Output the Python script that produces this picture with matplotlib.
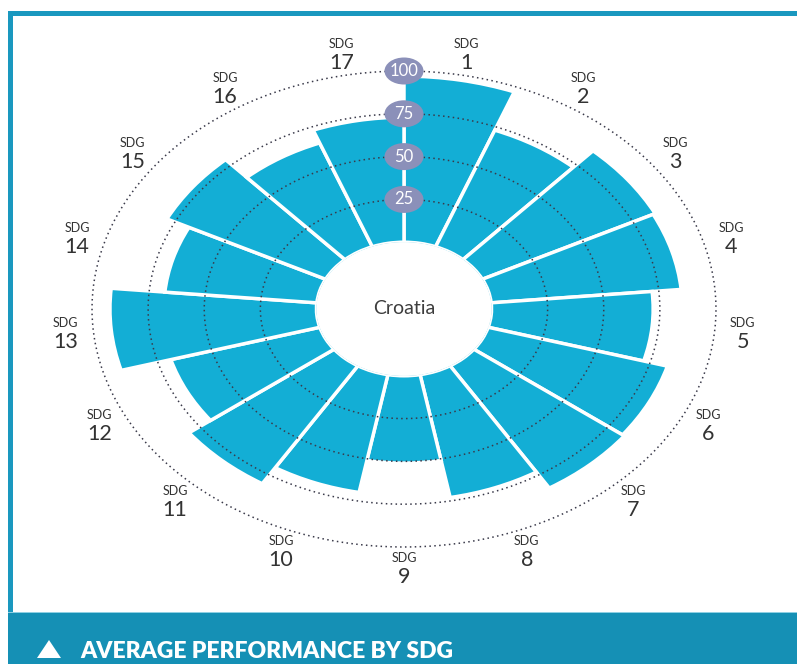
import numpy as np
import matplotlib
matplotlib.use("Agg")
import matplotlib.pyplot as plt
from matplotlib.patches import Rectangle, Ellipse, Polygon
from matplotlib import transforms

# ---- data ----
country = "Croatia"
goals = list(range(1, 18))
scores = [97, 73, 86, 85, 72, 83, 84, 73, 51, 70, 81, 69, 92, 68, 79, 65, 73]
ring_values = [25, 50, 75, 100]
title = "AVERAGE PERFORMANCE BY SDG"

# ---- style ----
BAR = "#13aed5"
BUBBLE = "#8b90b9"
FRAME = "#1a98bf"
BANNER = "#1590b5"
TXT = "#333333"
FONT = ["Lato", "DejaVu Sans"]

W, H = 797, 664
fig = plt.figure(figsize=(W / 100, H / 100), dpi=100)
fig.patch.set_facecolor("white")

def px(x, y):
    return (x / W, 1 - y / H)

# frame and banner
fig.patches.append(Rectangle((8 / W, 0), 1 - 8 / W, 52 / H, transform=fig.transFigure,
                             facecolor=BANNER, edgecolor="none", zorder=0))
fig.patches.append(Rectangle((8 / W, 51 / H), 1 - 8 / W, 1.2 / H, transform=fig.transFigure,
                             facecolor="#8fd0e3", edgecolor="none", zorder=1))
fig.patches.append(Rectangle((8 / W, 52 / H), 4.5 / W, (H - 52 - 11) / H, transform=fig.transFigure,
                             facecolor=FRAME, edgecolor="none", zorder=0))
fig.patches.append(Rectangle((8 / W, (H - 16) / H), 1 - 8 / W, 5 / H, transform=fig.transFigure,
                             facecolor=FRAME, edgecolor="none", zorder=0))
fig.patches.append(Polygon([px(37, 658), px(61, 658), px(49, 640)], closed=True,
                           transform=fig.transFigure, facecolor="white",
                           edgecolor="none", zorder=2))
fig.text(80 / W, 6 / H, title, color="white", fontsize=16.5, family=FONT,
         fontweight="heavy", ha="left", va="baseline")

# polar chart (stretched into an ellipse)
cx, cy = 404, H - 309
rx, ry = 312, 238
ax = fig.add_axes([(cx - rx) / W, (cy - ry) / H, 2 * rx / W, 2 * ry / H], projection="polar")
ax.set_aspect("auto")
ax.set_theta_zero_location("N")
ax.set_theta_direction(-1)
ax.set_ylim(0, 100)
ax.set_rorigin(-39)
ax.axis("off")

n = len(goals)
width = 2 * np.pi / n
theta = np.arange(n) * width + width / 2
ax.bar(theta, scores, width=width, bottom=0, color=BAR, edgecolor="white",
       linewidth=2.5, zorder=2)

circ = np.linspace(0, 2 * np.pi, 600)
for v in ring_values:
    ax.plot(circ, np.full_like(circ, v), color="#3a3a4a", lw=1.1,
            linestyle=(0, (1, 2.2)), zorder=3, clip_on=False)
    trans = fig.dpi_scale_trans + transforms.ScaledTranslation(0, v, ax.transData)
    ax.add_artist(Ellipse((0, 0), 0.39, 0.27, transform=trans, facecolor=BUBBLE,
                          edgecolor="none", zorder=4, clip_on=False))
    ax.text(0, v, str(v), color="white", fontsize=12, family=FONT, ha="center",
            va="center", zorder=5)

ax.text(0.5, 0.5, country, transform=ax.transAxes, ha="center", va="center",
        fontsize=14, color="#3d3d3d", family=FONT)

for t, g in zip(theta, goals):
    ax.annotate("SDG", xy=(t, 112.5), xytext=(0, 10), textcoords="offset pixels",
                ha="center", va="center", fontsize=9, color=TXT, family=FONT,
                annotation_clip=False)
    ax.annotate(str(g), xy=(t, 112.5), xytext=(0, -9), textcoords="offset pixels",
                ha="center", va="center", fontsize=15.5, color=TXT, family=FONT,
                annotation_clip=False)

fig.savefig("out.png", dpi=100, facecolor="white")
